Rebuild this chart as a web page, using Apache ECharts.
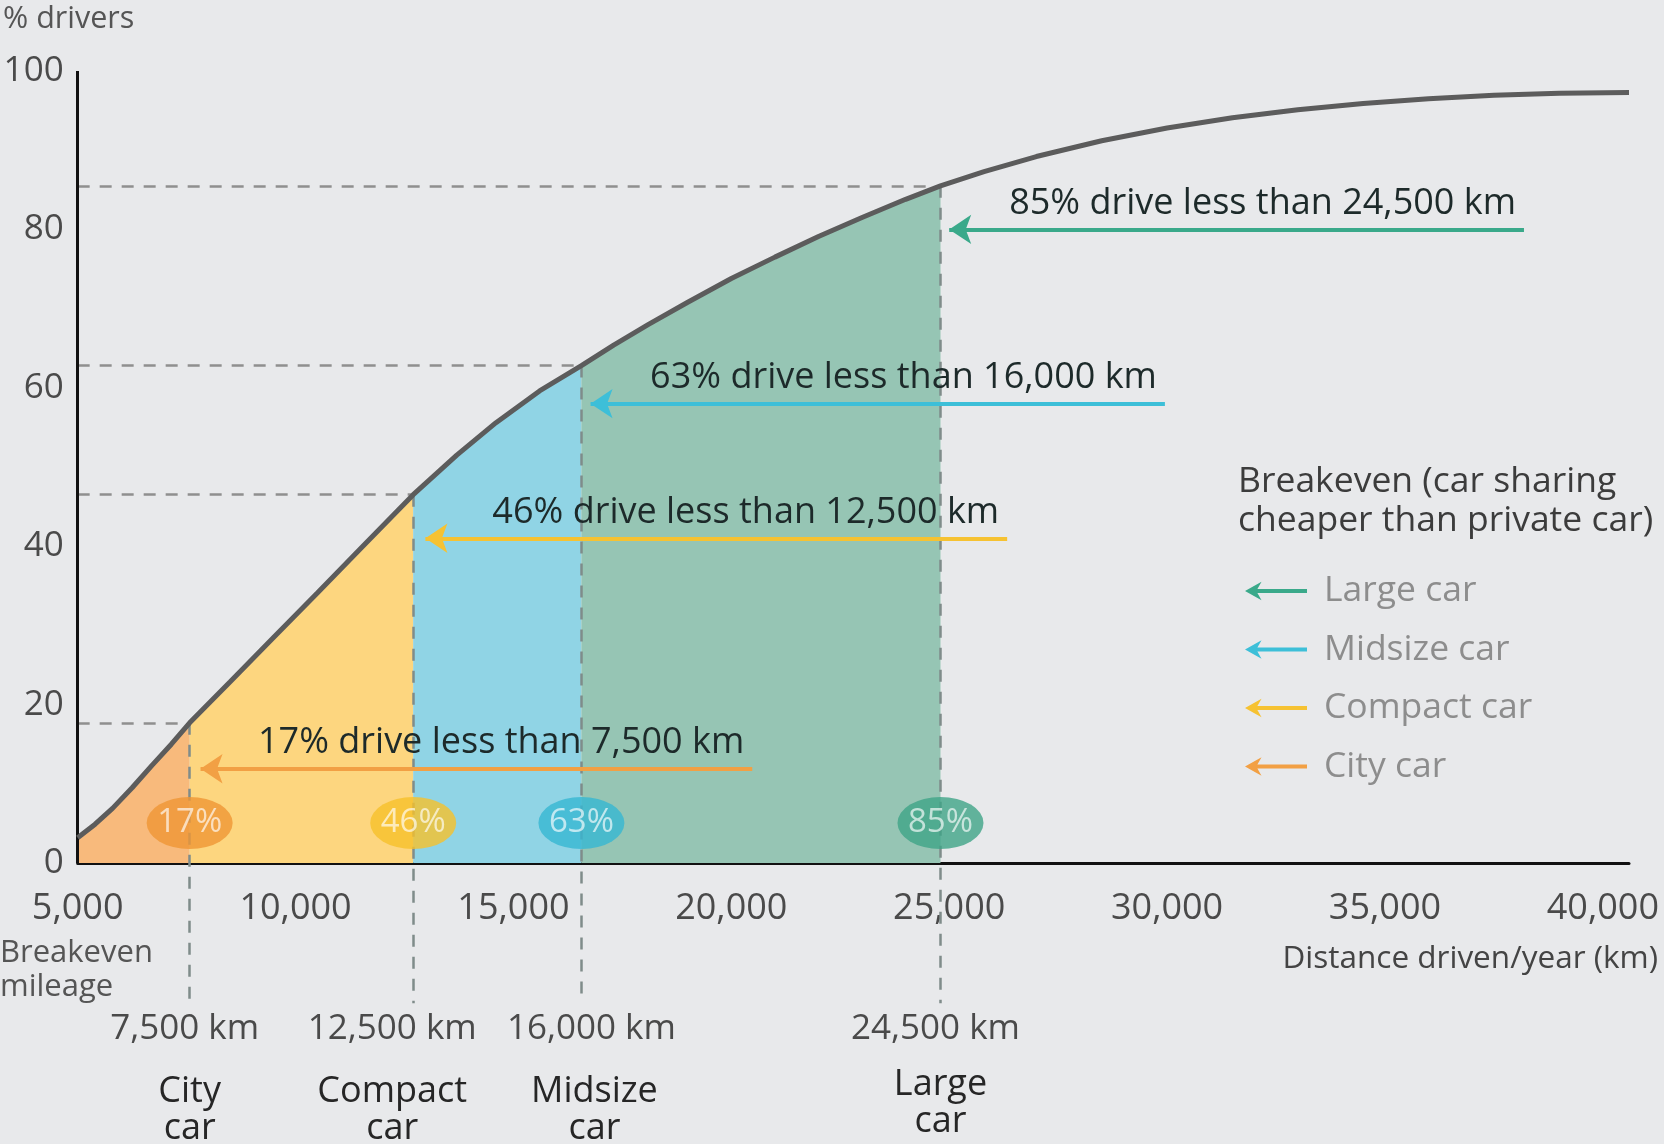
<!DOCTYPE html>
<html>
<head>
<meta charset="utf-8">
<script src="https://cdn.jsdelivr.net/npm/echarts@6/dist/echarts.min.js"></script>
<style>html,body{margin:0;padding:0;background:#e8e9eb;}#c{width:1664px;height:1144px;}</style>
</head>
<body>
<div id="c"></div>
<script>
// ---- data ----
const distanceKm = [5000, 5400, 5800, 6250, 6700, 7150, 7570, 8500, 9500, 10500, 11600, 12700, 13700, 14600, 15600, 16560, 17300, 18100, 19000, 20000, 21000, 22000, 23000, 24000, 24800, 25800, 27000, 28500, 30000, 31500, 33000, 34500, 36000, 37500, 39000, 40600];
const shareDrivers = [3.2, 4.9, 6.9, 9.5, 12.3, 15.0, 17.7, 22.9, 28.5, 34.1, 40.3, 46.5, 51.5, 55.6, 59.6, 62.8, 65.4, 68.0, 70.8, 73.8, 76.5, 79.1, 81.5, 83.8, 85.5, 87.3, 89.2, 91.2, 92.8, 94.1, 95.1, 95.9, 96.5, 96.95, 97.2, 97.3];

const carTypes = ['City car', 'Compact car', 'Midsize car', 'Large car'];
const breakevenX = [7570, 12700, 16560, 24800];
const breakevenPct = [17.7, 46.5, 62.8, 85.5];
const breakevenLabels = ['7,500 km', '12,500 km', '16,000 km', '24,500 km'];
const carNameLines = [['City', 'car'], ['Compact', 'car'], ['Midsize', 'car'], ['Large', 'car']];
const badgeTexts = ['17%', '46%', '63%', '85%'];
const statementTexts = ['17% drive less than 7,500 km', '46% drive less than 12,500 km', '63% drive less than 16,000 km', '85% drive less than 24,500 km'];
const arrowTipX = [7820, 12980, 16770, 25000];
const arrowTailX = [20480, 26330, 29950, 38190];
const arrowPct = [11.9, 41.0, 58.0, 80.0];
const legendOrder = ['Large car', 'Midsize car', 'Compact car', 'City car'];
const xTickValues = [5000, 10000, 15000, 20000, 25000, 30000, 35000, 40000];
const yTickValues = [0, 20, 40, 60, 80, 100];

// ---- styling / layout ----
const FONT = 'Open Sans';
const areaColors = ['#F8BA7C', '#FDD67F', '#90D4E5', '#96C5B4'];
const badgeColors = ['#EF9634', '#F6C02A', '#36B7D2', '#3FA487'];
const arrowColors = ['#F2A044', '#F6C232', '#3DBFD8', '#3AA98A'];
const guideBottom = -17.7;
const badgeLevel = 5.05;
const kmShift = [-5, -21, 10, -5];      // horizontal nudge of the "km" text (px)
const carShift = [0, -21, 13, 0];       // horizontal nudge of the car name (px)
const kmLineHeight = [62, 62, 62, 55];
const arrowIcon = 'path://M0,10 L16,1 L12,8 L60,8 L60,12 L12,12 L16,19 Z';

function shiftPad(s) { return s < 0 ? [0, -2 * s, 0, 0] : [0, 0, 0, 2 * s]; }

const curve = distanceKm.map((x, i) => [x, shareDrivers[i]]);
const bounds = [distanceKm[0]].concat(breakevenX);

const areaSeries = carTypes.map((name, i) => ({
  type: 'line', name: name, z: 1, silent: true, symbol: 'none',
  data: curve.filter(p => p[0] >= bounds[i] && p[0] <= bounds[i + 1]),
  lineStyle: { width: 0 },
  areaStyle: { color: areaColors[i], opacity: 1 }
}));

const guideLines = [];
breakevenX.forEach((x, i) => {
  guideLines.push([
    { coord: [xTickValues[0], breakevenPct[i]], lineStyle: { type: [12, 10], color: '#8f8f8f', width: 2.5 }, label: { show: false } },
    { coord: [x, breakevenPct[i]] }
  ]);
  guideLines.push([
    { coord: [x, breakevenPct[i]], lineStyle: { type: [12, 10], color: '#7f8c8a', width: 2.5 },
      label: { show: true, position: 'end', distance: 8,
        formatter: '{km|' + breakevenLabels[i] + '}\n{car|' + carNameLines[i][0] + '}\n{car|' + carNameLines[i][1] + '}',
        rich: {
          km: { fontFamily: FONT, fontSize: 35, color: '#4a4a4a', lineHeight: kmLineHeight[i], verticalAlign: 'top', align: 'center', padding: shiftPad(kmShift[i]) },
          car: { fontFamily: FONT, fontSize: 36, color: '#262626', lineHeight: 37, align: 'center', fontWeight: 500, padding: shiftPad(carShift[i]) }
        } } },
    { coord: [x, guideBottom] }
  ]);
});
// y axis line from 0 to 100
guideLines.push([
  { coord: [xTickValues[0], yTickValues[0]], lineStyle: { type: 'solid', color: '#111', width: 3 }, label: { show: false } },
  { coord: [xTickValues[0], yTickValues[yTickValues.length - 1]] }
]);

const arrowLines = breakevenX.map((x, i) => [
  { coord: [arrowTipX[i], arrowPct[i]], symbol: 'arrow', symbolSize: 22,
    lineStyle: { color: arrowColors[i], width: 4, type: 'solid' },
    label: { show: true, position: 'insideEndTop', distance: 8, formatter: statementTexts[i],
      fontFamily: FONT, fontSize: 36, color: '#1d2a2a' } },
  { coord: [arrowTailX[i], arrowPct[i]], symbol: 'none' }
]);

const option = {
  backgroundColor: '#E8E9EB',
  animation: false,
  textStyle: { fontFamily: FONT },
  title: {
    text: 'Breakeven (car sharing\ncheaper than private car)',
    left: 1233, top: 457,
    textStyle: { fontFamily: FONT, fontSize: 35.5, fontWeight: 'normal', color: '#3c3c3c', lineHeight: 39 }
  },
  legend: {
    orient: 'vertical', left: 1240, top: 568,
    itemWidth: 62, itemHeight: 21, itemGap: 22.5,
    icon: arrowIcon, selectedMode: false,
    itemStyle: { borderWidth: 0 },
    data: legendOrder.map(n => ({ name: n, itemStyle: { color: arrowColors[carTypes.indexOf(n)], borderWidth: 0 } })),
    textStyle: { fontFamily: FONT, fontSize: 35.5, color: '#8d8d8d', padding: [0, 0, 0, 12] }
  },
  grid: { left: 76, right: 35, top: 71, bottom: 122.6, containLabel: false },
  xAxis: {
    type: 'value', min: xTickValues[0], max: distanceKm[distanceKm.length - 1], interval: 5000,
    offset: -158.4,
    axisLine: { onZero: false, lineStyle: { color: '#111', width: 3 } },
    axisTick: { show: false }, splitLine: { show: false },
    axisLabel: {
      margin: 28, fontSize: 36, color: '#4a4a4a', fontFamily: FONT,
      formatter: v => xTickValues.indexOf(v) >= 0 ? v.toLocaleString('en-US') : ''
    }
  },
  yAxis: {
    type: 'value', min: -20, max: 100, interval: 20,
    name: '% drivers', nameLocation: 'end', nameGap: 36,
    nameTextStyle: { fontFamily: FONT, fontSize: 30.5, color: '#555', align: 'center', padding: [0, 18, 0, 0] },
    axisLine: { show: false }, axisTick: { show: false }, splitLine: { show: false },
    axisLabel: {
      margin: 14, fontSize: 35, color: '#4a4a4a', fontFamily: FONT,
      formatter: v => yTickValues.indexOf(v) >= 0 ? String(v) : ''
    }
  },
  graphic: [
    { type: 'text', left: 0, top: 936, style: { text: 'Breakeven\nmileage', fontFamily: FONT, fontSize: 31, lineHeight: 34, fill: '#555' } },
    { type: 'text', right: 6, top: 943, style: { text: 'Distance driven/year (km)', fontFamily: FONT, fontSize: 31.5, fill: '#444' } }
  ],
  series: areaSeries.concat([
    {
      type: 'line', name: 'guides', data: [], silent: true, clip: false,
      markLine: { silent: true, z: 2, symbol: ['none', 'none'], data: guideLines }
    },
    {
      type: 'line', name: 'curve', z: 3, silent: true, symbol: 'none', data: curve,
      lineStyle: { color: '#5C5C5C', width: 5 }
    },
    {
      type: 'line', name: 'arrows', data: [], silent: true, clip: false,
      markLine: { silent: true, z: 4, symbol: ['arrow', 'none'], data: arrowLines }
    },
    {
      type: 'scatter', name: 'badges', z: 5, silent: true, symbol: 'circle', symbolSize: [86, 52],
      data: breakevenX.map((x, i) => ({ value: [x, badgeLevel], itemStyle: { color: badgeColors[i] } })),
      label: {
        show: true, position: 'inside', fontFamily: FONT, fontSize: 33, color: 'rgba(255,255,255,0.82)',
        formatter: p => badgeTexts[p.dataIndex]
      }
    }
  ])
};

const chart = echarts.init(document.getElementById('c'));
chart.setOption(option);
</script>
</body>
</html>
